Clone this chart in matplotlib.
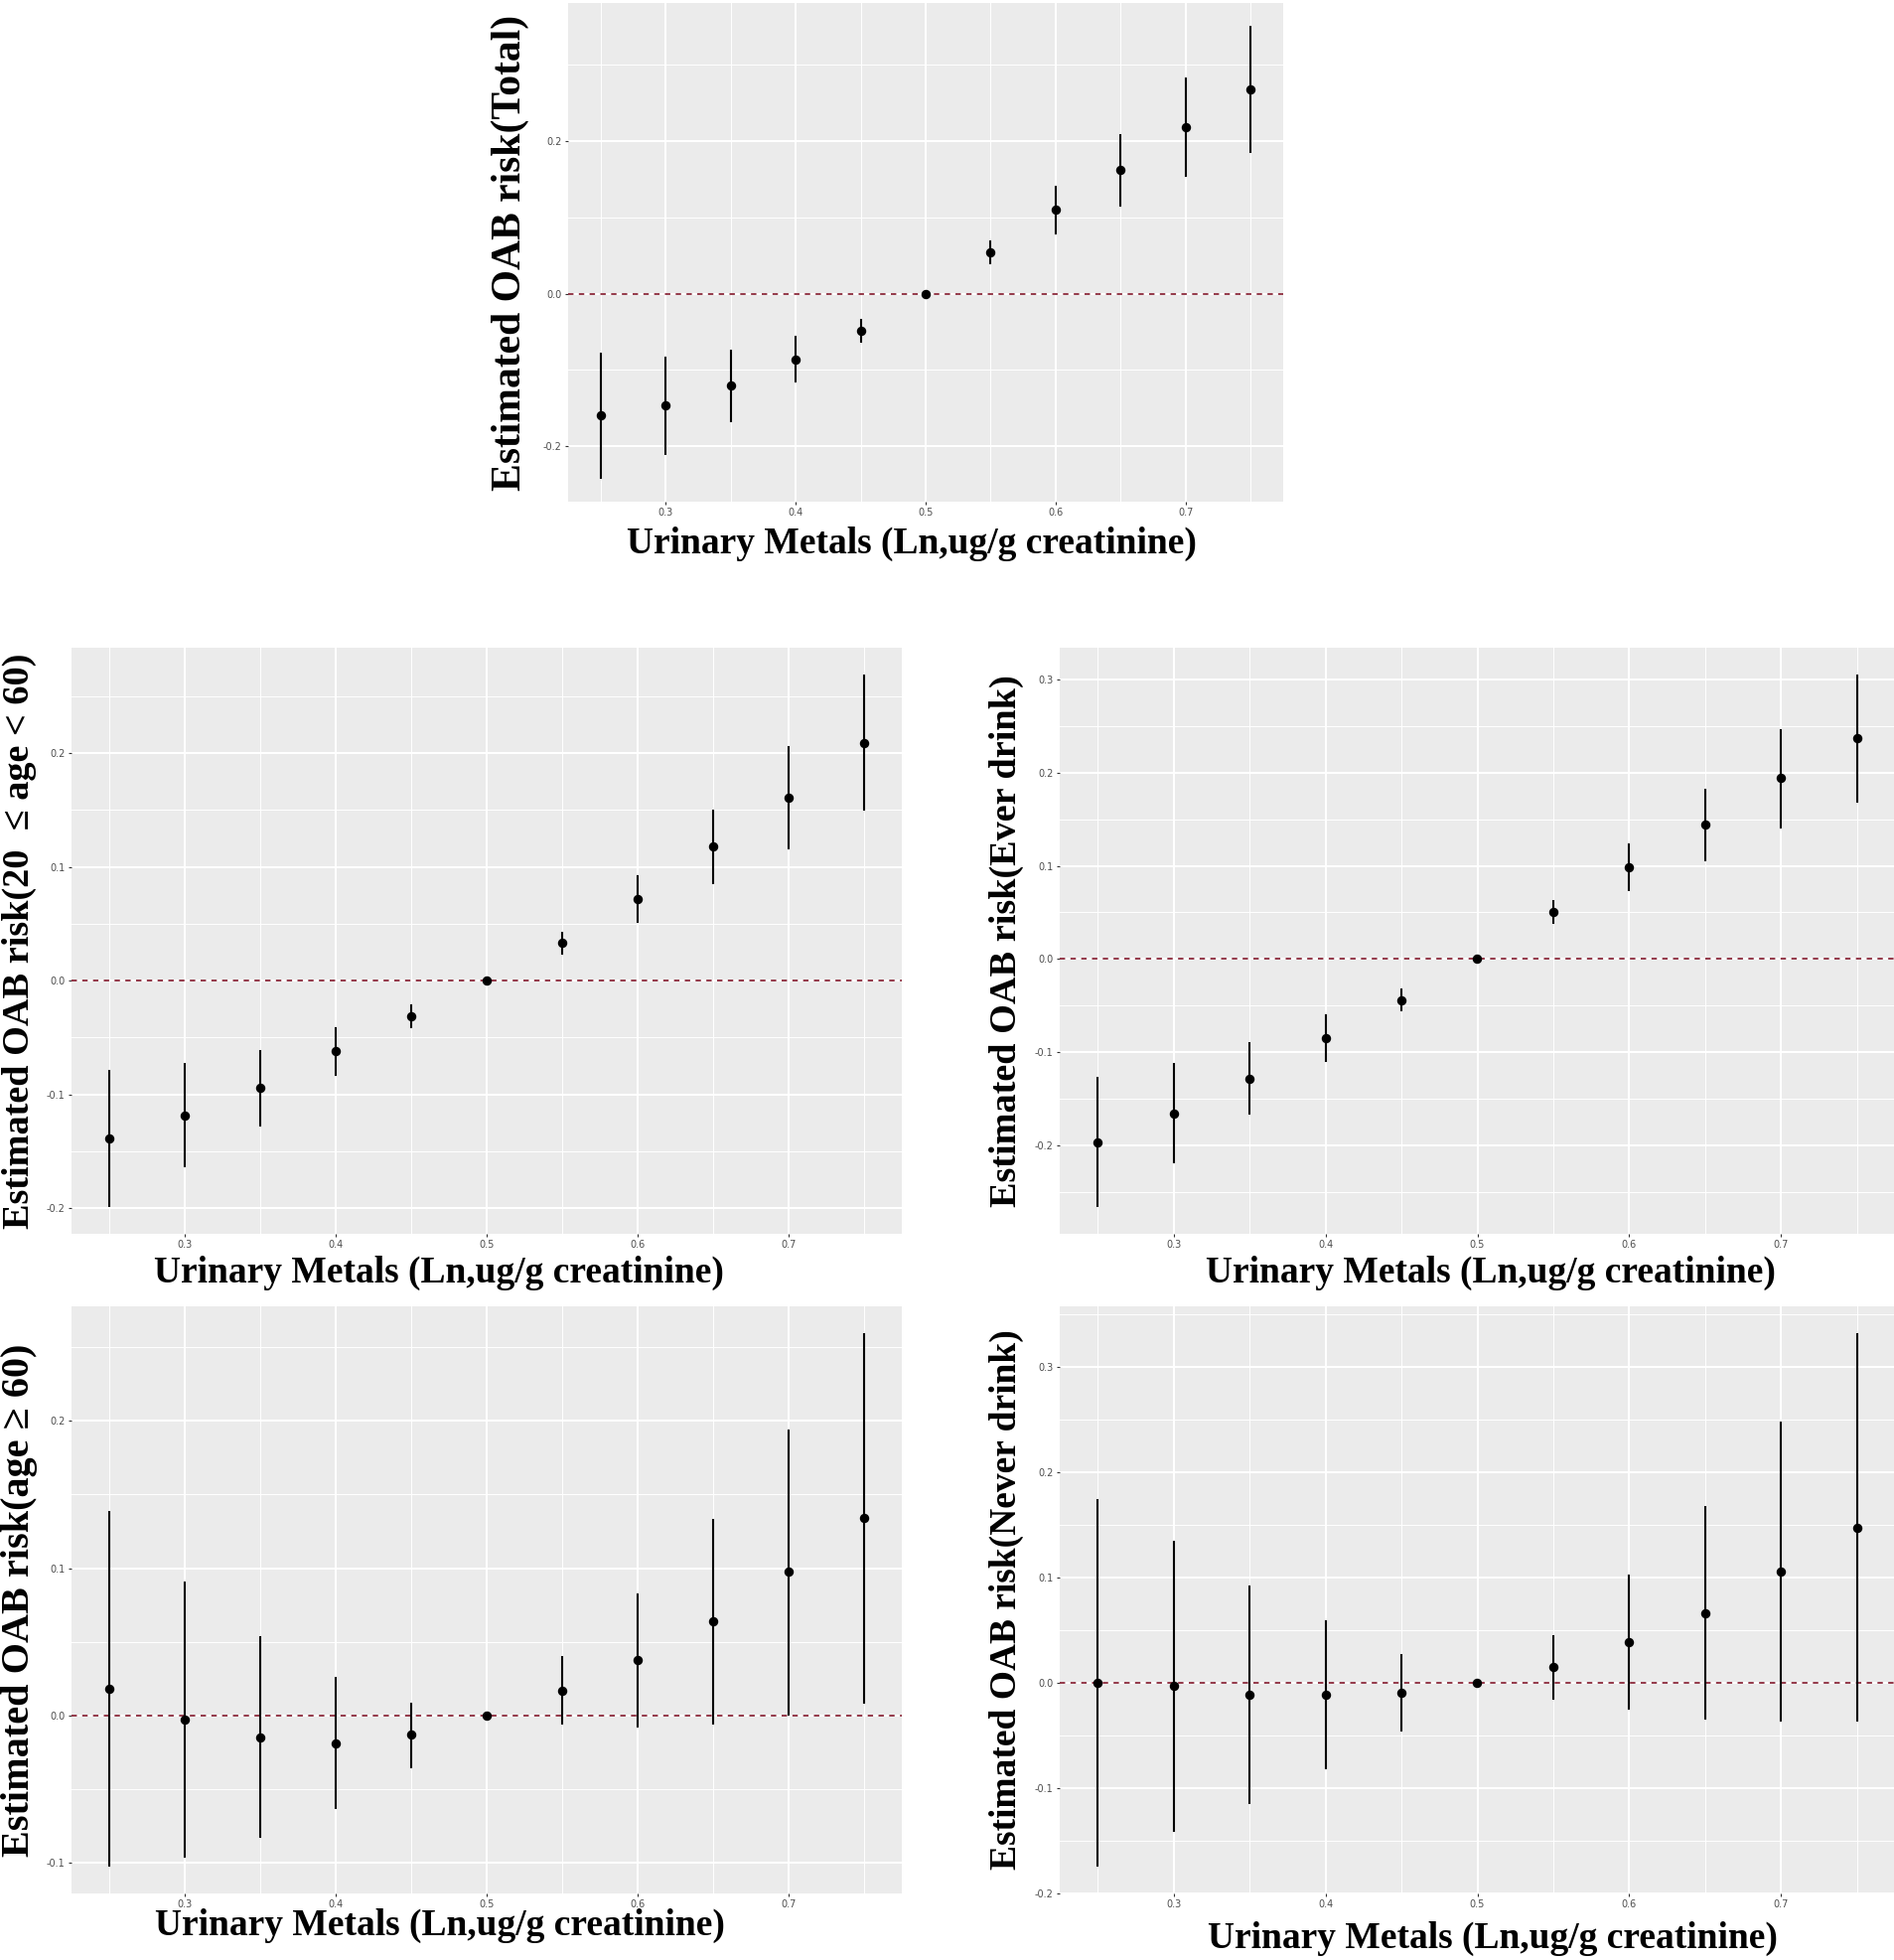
import numpy as np
import matplotlib
matplotlib.use("Agg")
from matplotlib import pyplot as plt
from matplotlib.ticker import MultipleLocator, FormatStrFormatter

plt.rcParams["axes.unicode_minus"] = False

# exposure quantiles (same for every panel)
x = [0.25, 0.30, 0.35, 0.40, 0.45, 0.50, 0.55, 0.60, 0.65, 0.70, 0.75]

# Total
total_est = [-0.160, -0.146, -0.120, -0.086, -0.0485, 0.0, 0.054, 0.110, 0.162, 0.2186, 0.268]
total_lo = [-0.243, -0.211, -0.168, -0.117, -0.064, 0.0, 0.038, 0.0775, 0.1147, 0.153, 0.185]
total_hi = [-0.0775, -0.082, -0.073, -0.055, -0.033, 0.0, 0.070, 0.1415, 0.2095, 0.2835, 0.3515]

# 20 <= age < 60
young_est = [-0.1385, -0.1185, -0.0945, -0.062, -0.031, 0.0, 0.033, 0.072, 0.1177, 0.161, 0.209]
young_lo = [-0.199, -0.164, -0.128, -0.0835, -0.0415, 0.0, 0.023, 0.051, 0.085, 0.115, 0.149]
young_hi = [-0.078, -0.0725, -0.061, -0.0405, -0.021, 0.0, 0.043, 0.093, 0.150, 0.206, 0.269]

# Ever drink
ever_est = [-0.197, -0.166, -0.1287, -0.085, -0.044, 0.0, 0.0504, 0.0986, 0.144, 0.194, 0.2367]
ever_lo = [-0.2667, -0.2197, -0.1677, -0.111, -0.0567, 0.0, 0.0373, 0.0728, 0.105, 0.1406, 0.168]
ever_hi = [-0.1266, -0.112, -0.0893, -0.0597, -0.0313, 0.0, 0.0635, 0.124, 0.183, 0.247, 0.3057]

# age >= 60
old_est = [0.0178, -0.003, -0.0149, -0.019, -0.0134, 0.0, 0.0166, 0.0373, 0.0636, 0.0977, 0.134]
old_lo = [-0.103, -0.0968, -0.083, -0.064, -0.036, 0.0, -0.0064, -0.0085, -0.0064, 0.0, 0.008]
old_hi = [0.139, 0.091, 0.054, 0.026, 0.0087, 0.0, 0.040, 0.083, 0.1335, 0.1945, 0.2598]

# Never drink
never_est = [0.0, -0.0033, -0.0118, -0.0114, -0.0094, 0.0, 0.0147, 0.0383, 0.0664, 0.106, 0.1475]
never_lo = [-0.175, -0.1414, -0.1157, -0.082, -0.046, 0.0, -0.0159, -0.0257, -0.035, -0.0367, -0.037]
never_hi = [0.175, 0.1345, 0.092, 0.059, 0.0273, 0.0, 0.0456, 0.1027, 0.1683, 0.2486, 0.3325]

W, H = 1908, 1973
fig = plt.figure(figsize=(W / 100, H / 100), dpi=100)

serif = ["Liberation Serif", "DejaVu Serif"]


def px_axes(l, r, t, b):
    return fig.add_axes([l / W, 1 - b / H, (r - l) / W, (b - t) / H])


def to_axes(l, r, t, b, px, py):
    return (px - l) / (r - l), (b - py) / (b - t)


def panel(box, est, lo, hi, ylabel, ysize, ystep, ylab_x, xlab_xy):
    l, r, t, b = box
    ax = px_axes(l, r, t, b)
    ax.set_facecolor("#EBEBEB")
    for s in ax.spines.values():
        s.set_visible(False)

    ax.vlines(x, lo, hi, color="black", lw=1.5, zorder=3)
    ax.plot(x, est, "o", color="black", ms=5.8, zorder=4)
    ax.axhline(0, color="#8B2A3C", lw=1.3, ls=(0, (3, 3)), zorder=2)
    ax.margins(x=0.05, y=0.05)

    ax.xaxis.set_major_locator(MultipleLocator(0.1))
    ax.xaxis.set_minor_locator(MultipleLocator(0.05))
    ax.yaxis.set_major_locator(MultipleLocator(ystep))
    ax.yaxis.set_minor_locator(MultipleLocator(ystep / 2))
    ax.xaxis.set_major_formatter(FormatStrFormatter("%.1f"))
    ax.yaxis.set_major_formatter(FormatStrFormatter("%.1f"))
    ax.grid(which="major", color="white", lw=1.5)
    ax.grid(which="minor", color="white", lw=0.7)
    ax.set_axisbelow(True)
    ax.tick_params(which="major", length=2.5, width=0.8, color="#333333",
                   labelsize=7, labelcolor="#4D4D4D", pad=2)
    ax.tick_params(which="minor", length=0)

    ax.set_ylabel(ylabel, family=serif, fontweight="bold", fontsize=ysize)
    ax.yaxis.set_label_coords(*to_axes(l, r, t, b, ylab_x, (t + b) / 2))
    ax.yaxis.label.set_va("center")
    ax.set_xlabel("Urinary Metals (Ln,ug/g creatinine)", family=serif,
                  fontweight="bold", fontsize=27)
    ax.xaxis.set_label_coords(*to_axes(l, r, t, b, *xlab_xy))
    ax.xaxis.label.set_va("center")
    return ax


panel((572, 1292, 3, 505), total_est, total_lo, total_hi,
      "Estimated OAB risk(Total)", 30, 0.2, 514, (918, 547))
panel((72, 908, 652, 1242), young_est, young_lo, young_hi,
      "Estimated OAB risk(20  \u2264 age < 60)", 27.5, 0.1, 19, (442, 1281))
panel((1067, 1908, 652, 1242), ever_est, ever_lo, ever_hi,
      "Estimated OAB risk(Ever drink)", 27.5, 0.1, 1013, (1501, 1281))
panel((72, 908, 1315, 1906), old_est, old_lo, old_hi,
      "Estimated OAB risk(age \u2265 60)", 29, 0.1, 20, (443, 1938))
panel((1067, 1908, 1315, 1906), never_est, never_lo, never_hi,
      "Estimated OAB risk(Never drink)", 27, 0.1, 1013, (1503, 1951))

fig.savefig("out.png", dpi=100)
